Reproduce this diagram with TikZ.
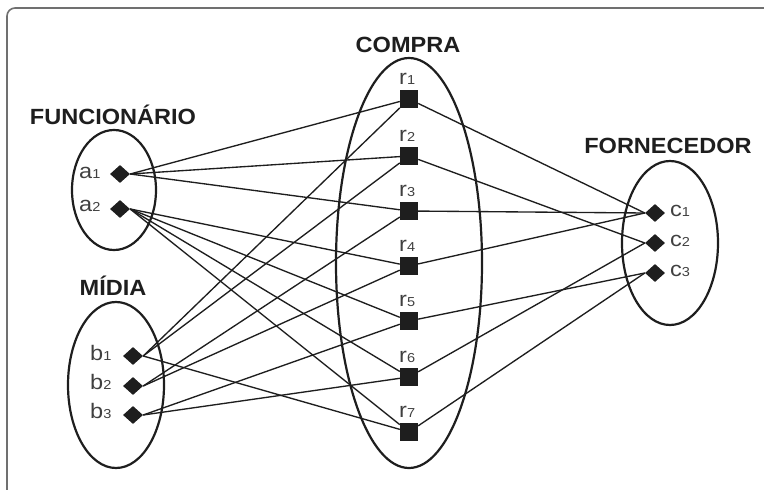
\documentclass[tikz,border=0pt]{standalone}
\usepackage{fontspec}
\setmainfont{Liberation Sans}
\newfontfamily\headfont{Liberation Sans Bold}[FakeStretch=1.07]
\newfontfamily\labelfont{Liberation Sans}[FakeStretch=1.12]
\usetikzlibrary{shapes.geometric}
\definecolor{ink}{HTML}{1E1E1E}
\definecolor{framegray}{HTML}{707070}
\newcommand\idx[2]{#1{\fontsize{13}{13}\selectfont #2}}
\tikzset{
  title/.style={anchor=base, inner sep=0pt, text=ink,
    font=\headfont\fontsize{22}{24}\selectfont},
  setlabel/.style={anchor=base west, inner sep=0pt, text=ink!85,
    font=\labelfont\fontsize{21}{23}\selectfont},
  elem/.style={shape=diamond, fill=ink, draw=none, inner sep=0pt,
    minimum width=20pt, minimum height=18pt},
  buy/.style={shape=rectangle, fill=ink, draw=none, inner sep=0pt,
    minimum size=18pt},
  setshape/.style={draw=ink, line width=2.2pt},
  link/.style={draw=ink, line width=1.35pt},
}
\begin{document}
\begin{tikzpicture}[x=1pt,y=-1pt]
\useasboundingbox (0,0) rectangle (764,490);
% outer frame (only the left and top edges are visible)
\draw[framegray, line width=1.6pt, rounded corners=8pt] (7,492) -- (7,8) -- (766,8);

% set outlines
\draw[setshape] (114,190) ellipse [x radius=42pt, y radius=60pt];
\draw[setshape] (116,385) ellipse [x radius=48pt, y radius=83pt];
\draw[setshape] (409,263) ellipse [x radius=73pt, y radius=205pt];
\draw[setshape] (670,243) ellipse [x radius=48pt, y radius=82pt];

% titles
\node[title] (tf) at (113,124) {FUNCIONÁRIO};
\node[title] (tm) at (113,295) {MÍDIA};
\node[title] (tc) at (408,52) {COMPRA};
\node[title] (tr) at (668,153) {FORNECEDOR};

% elements
\node[elem] (a1) at (120,174) {};
\node[elem] (a2) at (120,209) {};
\node[elem] (b1) at (133,356) {};
\node[elem] (b2) at (133,386) {};
\node[elem] (b3) at (133,415) {};
\node[elem] (c1) at (655,213) {};
\node[elem] (c2) at (655,243) {};
\node[elem] (c3) at (655,273) {};
\foreach \i/\y in {1/99,2/156,3/211,4/266,5/321,6/377,7/432}{
  \node[buy] (r\i) at (409,\y) {};
  \node[setlabel] (lr\i) at (399,\y-15) {\idx{r}{\i}};
}

% element labels
\node[setlabel] (la1) at (79,178) {\idx{a}{1}};
\node[setlabel] (la2) at (79,211) {\idx{a}{2}};
\node[setlabel] (lb1) at (90,360) {\idx{b}{1}};
\node[setlabel] (lb2) at (90,389) {\idx{b}{2}};
\node[setlabel] (lb3) at (90,418) {\idx{b}{3}};
\node[setlabel] (lc1) at (670,216) {\idx{c}{1}};
\node[setlabel] (lc2) at (670,246) {\idx{c}{2}};
\node[setlabel] (lc3) at (670,276) {\idx{c}{3}};

% connections to the purchases
\foreach \s/\t in {a1/r1,a1/r2,a1/r3,a2/r4,a2/r5,a2/r6,a2/r7,
                   b1/r1,b1/r2,b1/r7,b2/r3,b2/r4,b3/r5,b3/r6}{
  \draw[link] (\s.east) -- (\t);
}
% connections to the suppliers
\foreach \s/\t in {r1/c1,r2/c2,r3/c1,r4/c1,r5/c3,r6/c2,r7/c3}{
  \draw[link] (\s) -- (\t.west);
}
\end{tikzpicture}
\end{document}
